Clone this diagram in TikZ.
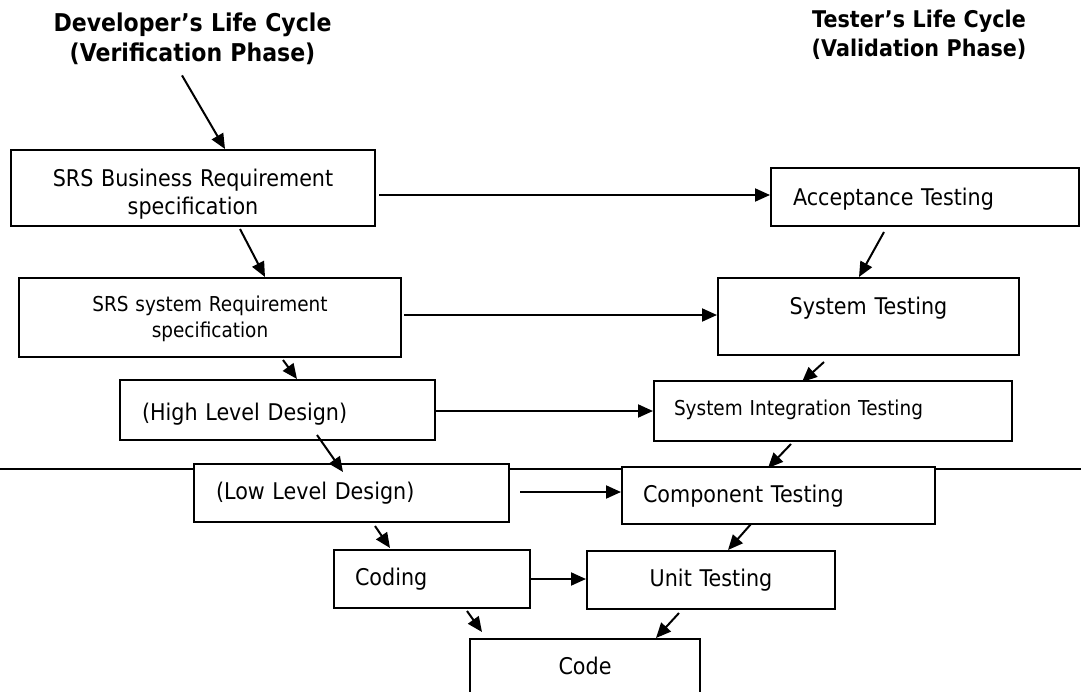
\documentclass[tikz,border=0pt]{standalone}
\usepackage{fontspec}
\setmainfont{DejaVu Sans}[FakeStretch=0.9]
\usetikzlibrary{arrows.meta}

% font sizes (1pt = one unit of the drawing grid)
\newcommand\vmBoxFont{\fontsize{23}{28}\selectfont}
\newcommand\vmSmallFont{\fontsize{20.5}{26}\selectfont}
\newcommand\vmDevTitle{\fontsize{24.5}{30}\selectfont\bfseries}
\newcommand\vmTestTitle{\fontsize{23}{29}\selectfont\bfseries}

\tikzset{
  phase/.style={draw, line width=2pt, fill=white, inner ysep=0pt,
    anchor=north west, font=\vmBoxFont},
  lefttext/.style={align=left},
  midtext/.style={align=center},
  heading/.style={inner sep=0pt, anchor=north, align=center},
  arr/.style={line width=2pt, -{Triangle[length=15pt,width=13pt]}},
  divider/.style={line width=2pt}
}

\begin{document}
\begin{tikzpicture}[x=1pt, y=-1pt]
  \useasboundingbox (0,0) rectangle (1081,691);
  \fill[white] (0,0) rectangle (1081,691);
  \clip (0,0) rectangle (1081,691);

  % headings
  \node[heading, font=\vmDevTitle, text width=330pt, text height=26pt, text depth=39pt]
    (devtitle) at (192.5,5) {Developer’s Life Cycle\\(Verification Phase)};
  \node[heading, font=\vmTestTitle, text width=300pt, text height=22pt, text depth=34pt]
    (testtitle) at (919,5) {Tester’s Life Cycle\\(Validation Phase)};

  % horizontal divider, passing behind the boxes
  \coordinate (divL) at (0,469);
  \coordinate (divR) at (1081,469);
  \draw[divider] (divL) -- (divR);

  % developer side
  \node[phase, midtext, inner xsep=10pt, text width=344pt, text height=36pt, text depth=40pt]
    (biz) at (10,149) {SRS Business Requirement\\specification};
  \node[phase, midtext, font=\vmSmallFont, inner xsep=10pt, text width=362pt, text height=33pt, text depth=46pt]
    (sysreq) at (18,277) {SRS system Requirement\\specification};
  \node[phase, lefttext, inner xsep=22pt, text width=271pt, text height=40pt, text depth=20pt]
    (hld) at (119,379) {(High Level Design)};
  \node[phase, lefttext, inner xsep=22pt, text width=271pt, text height=35pt, text depth=23pt]
    (lld) at (193,463) {(Low Level Design)};
  \node[phase, lefttext, inner xsep=21pt, text width=154pt, text height=35pt, text depth=23pt]
    (coding) at (333,549) {Coding};

  % tester side
  \node[phase, lefttext, inner xsep=22pt, text width=264pt, text height=37pt, text depth=21pt]
    (acc) at (770,167) {Acceptance Testing};
  \node[phase, midtext, inner xsep=10pt, text width=281pt, text height=36pt, text depth=41pt]
    (systest) at (717,277) {System Testing};
  \node[phase, lefttext, font=\vmSmallFont, inner xsep=20pt, text width=318pt, text height=34pt, text depth=26pt]
    (sit) at (653,380) {System Integration Testing};
  \node[phase, lefttext, inner xsep=21pt, text width=271pt, text height=35pt, text depth=22pt]
    (comp) at (621,466) {Component Testing};
  \node[phase, midtext, inner xsep=10pt, text width=228pt, text height=35pt, text depth=23pt]
    (unit) at (586,550) {Unit Testing};

  % bottom of the V
  \node[phase, midtext, inner xsep=10pt, text width=210pt, text height=35pt, text depth=45pt]
    (code) at (469,638) {Code};

  % descending arrows (developer side)
  \draw[arr] ([xshift=-10.5pt,yshift=-5pt]devtitle.south) -- ([xshift=215pt]biz.north west);
  \draw[arr] ([xshift=230pt,yshift=-2pt]biz.south west) -- ([xshift=247pt]sysreq.north west);
  \draw[arr] ([xshift=265pt,yshift=-2pt]sysreq.south west) -- ([xshift=178pt]hld.north west);
  \draw[arr] ([xshift=198pt,yshift=6pt]hld.south west) -- ([xshift=150pt,yshift=-9pt]lld.north west);
  \draw[arr] ([xshift=182pt,yshift=-3pt]lld.south west) -- ([xshift=57pt,yshift=1pt]coding.north west);
  \draw[arr] ([xshift=134pt,yshift=-2pt]coding.south west) -- ([xshift=13pt,yshift=6pt]code.north west);

  % descending arrows (tester side)
  \draw[arr] ([xshift=114pt,yshift=-5pt]acc.south west) -- ([xshift=142pt]systest.north west);
  \draw[arr] ([xshift=107pt,yshift=-6pt]systest.south west) -- ([xshift=149pt,yshift=-2pt]sit.north west);
  \draw[arr] ([xshift=138pt,yshift=-2pt]sit.south west) -- ([xshift=147pt,yshift=-2pt]comp.north west);
  \draw[arr] ([xshift=130pt,yshift=1pt]comp.south west) -- ([xshift=142pt]unit.north west);
  \draw[arr] ([xshift=93pt,yshift=-3pt]unit.south west) -- ([xshift=187pt]code.north west);

  % level-to-level arrows
  \draw[arr] ([xshift=3pt,yshift=-7pt]biz.east) coordinate (b0) -- (b0 -| acc.west);
  \draw[arr] ([xshift=2pt,yshift=2.5pt]sysreq.east) coordinate (e0) -- (e0 -| systest.west);
  \draw[arr] ([yshift=-1pt]hld.east) coordinate (h0) -- (h0 -| sit.west);
  \draw[arr] ([xshift=10pt,yshift=1pt]lld.east) coordinate (j0) -- (j0 -| comp.west);
  \draw[arr] (coding.east) coordinate (n0) -- (n0 -| unit.west);
\end{tikzpicture}
\end{document}
